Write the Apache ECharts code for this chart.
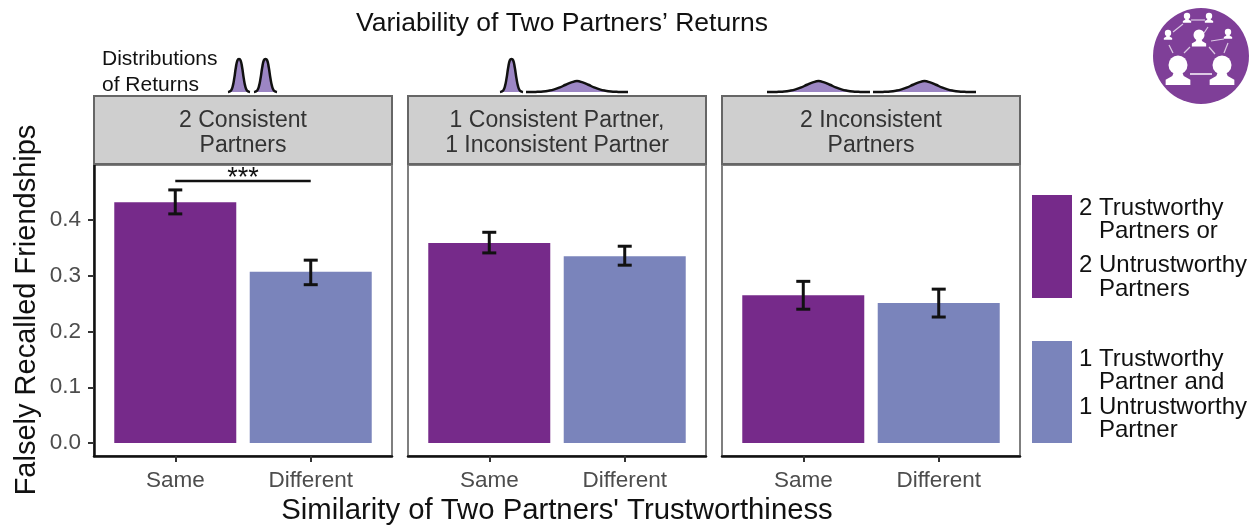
<!DOCTYPE html>
<html>
<head>
<meta charset="utf-8">
<title>Falsely Recalled Friendships</title>
<style>
    html, body { margin: 0; padding: 0; background: #fff; }
    #chart { width: 1255px; height: 525px; }
</style>
</head>
<body>
<div id="chart"></div>
<script src="https://cdn.jsdelivr.net/npm/echarts@6/dist/echarts.min.js"></script>
<script>
const categories = ["Same", "Different"];
const panelNames = ["2 Consistent\nPartners", "1 Consistent Partner,\n1 Inconsistent Partner", "2 Inconsistent\nPartners"];
const yTicks = [0, 0.1, 0.2, 0.3, 0.4];

const means = [[0.432, 0.307], [0.359, 0.335], [0.265, 0.251]];
const upper = [[0.454, 0.328], [0.378, 0.353], [0.29, 0.276]];
const lower = [[0.411, 0.284], [0.341, 0.319], [0.24, 0.226]];

const sigLine = [[1, 0.47], [2, 0.47]];

// shapes of the small return distributions above the panels
const narrowCurve = [0, 0.015, 0.05, 0.17, 0.42, 0.74, 0.96, 1, 0.96, 0.74, 0.42, 0.17, 0.05, 0.015, 0];
const wideCurve = [0, 0, 0.005, 0.015, 0.04, 0.08, 0.14, 0.22, 0.29, 0.33, 0.29, 0.22, 0.14, 0.08, 0.04, 0.015, 0.005, 0, 0];

const legendTop = ["2 Trustworthy", "   Partners or", "2 Untrustworthy", "   Partners"];
const legendBottom = ["1 Trustworthy", "   Partner and", "1 Untrustworthy", "   Partner"];

const FONT = '"Liberation Sans", Arial, sans-serif';
const PURPLE = "#762a8a", BLUE = "#7a84bb", ICON = "#7f3f98";
const panelLeft = [94, 408, 722], panelWidth = 298, plotTop = 165, plotHeight = 291;

// left, width of every small curve, with the panel it sits over
const curveBoxes = [
    [228, 22, narrowCurve], [254, 23, narrowCurve],
    [500, 23, narrowCurve], [526, 102, wideCurve],
    [767, 103, wideCurve], [873, 103, wideCurve]
];

let chart = echarts.init(document.getElementById("chart"));
let grids = [], xAxes = [], yAxes = [], series = [];

panelLeft.forEach(function(left, i) {
    grids.push({
        left: left, top: plotTop, width: panelWidth, height: plotHeight,
        show: true, borderColor: "#7f7f7f", borderWidth: 2, backgroundColor: "#fff"
    });
    xAxes.push({
        type: "value", gridIndex: i, min: 0.4, max: 2.6,
        splitLine: { show: false },
        axisLine: { show: true, onZero: false, lineStyle: { color: "#111", width: 2.5 } },
        axisTick: { show: true, customValues: [1, 2], length: 6, lineStyle: { color: "#333", width: 2 } },
        axisLabel: {
            customValues: [1, 2], margin: 13, fontSize: 22.5, color: "#4d4d4d", fontFamily: FONT,
            formatter: function(v) { return categories[v - 1]; }
        }
    });
    yAxes.push({
        type: "value", gridIndex: i, min: -0.0233, max: 0.4987,
        show: i === 0,
        splitLine: { show: false },
        axisLine: { show: true, onZero: false, lineStyle: { color: "#111", width: 2.5 } },
        axisTick: { show: true, customValues: yTicks, length: 6, lineStyle: { color: "#333", width: 2 } },
        axisLabel: {
            customValues: yTicks, margin: 13, fontSize: 22.5, color: "#4d4d4d", fontFamily: FONT,
            formatter: function(v) { return v.toFixed(1); }
        }
    });
    series.push({
        type: "bar", xAxisIndex: i, yAxisIndex: i, barWidth: 122, animation: false,
        data: means[i].map(function(v, j) {
            return { value: [j + 1, v], itemStyle: { color: j === 0 ? PURPLE : BLUE } };
        })
    });
    series.push({
        type: "custom", xAxisIndex: i, yAxisIndex: i, animation: false, z: 5,
        data: means[i].map(function(v, j) { return [j + 1, lower[i][j], upper[i][j]]; }),
        renderItem: function(params, api) {
            let lo = api.coord([api.value(0), api.value(1)]),
                hi = api.coord([api.value(0), api.value(2)]),
                style = { stroke: "#111", lineWidth: 3 };
            return {
                type: "group",
                children: [
                    { type: "line", shape: { x1: lo[0], y1: lo[1], x2: hi[0], y2: hi[1] }, style: style },
                    { type: "line", shape: { x1: lo[0] - 7, y1: lo[1], x2: lo[0] + 7, y2: lo[1] }, style: style },
                    { type: "line", shape: { x1: hi[0] - 7, y1: hi[1], x2: hi[0] + 7, y2: hi[1] }, style: style }
                ]
            };
        }
    });
});

series.push({
    type: "line", xAxisIndex: 0, yAxisIndex: 0, data: sigLine, symbol: "none", animation: false, z: 5,
    lineStyle: { color: "#111", width: 2.5 }
});

curveBoxes.forEach(function(box, k) {
    let idx = panelLeft.length + k;
    grids.push({ left: box[0], width: box[1], top: 59, height: 33 });
    xAxes.push({
        type: "category", gridIndex: idx, show: false, boundaryGap: false,
        data: box[2].map(function(v, n) { return n; })
    });
    yAxes.push({ type: "value", gridIndex: idx, show: false, min: 0, max: 1 });
    series.push({
        type: "line", xAxisIndex: idx, yAxisIndex: idx, data: box[2], symbol: "none", smooth: true,
        animation: false, clip: false,
        lineStyle: { color: "#111", width: 2.5 },
        areaStyle: { color: "#9c86c4", opacity: 1 }
    });
});

function txt(x, y, text, size, color, align, extra) {
    return Object.assign({
        type: "text", x: x, y: y, z: 20,
        style: {
            text: text, fontSize: size, fill: color, fontFamily: FONT,
            align: align || "left", verticalAlign: "middle", lineHeight: size * 1.07
        }
    }, extra || {});
}

function person(cx, cy, s) {
    // head plus shoulders, s is the head radius
    return [
        { type: "circle", z: 22, shape: { cx: cx, cy: cy, r: s }, style: { fill: "#fff" } },
        {
            type: "polygon", z: 22,
            shape: { points: [[cx - s * 0.45, cy + s * 0.8], [cx + s * 0.45, cy + s * 0.8], [cx + s * 0.6, cy + s * 1.15], [cx + s * 1.3, cy + s * 1.55], [cx + s * 1.3, cy + s * 2.1], [cx - s * 1.3, cy + s * 2.1], [cx - s * 1.3, cy + s * 1.55], [cx - s * 0.6, cy + s * 1.15]] },
            style: { fill: "#fff" }
        }
    ];
}

function link(x1, y1, x2, y2) {
    return { type: "line", z: 22, shape: { x1: x1, y1: y1, x2: x2, y2: y2 }, style: { stroke: "#dcc9e4", lineWidth: 1.2 } };
}

let graphics = [
    txt(562, 24, "Variability of Two Partners\u2019 Returns", 26.5, "#111", "center"),
    txt(102, 59, "Distributions", 21, "#111"),
    txt(102, 85, "of Returns", 21, "#111"),
    txt(27, 310, "Falsely Recalled Friendships", 29, "#111", "center", { rotation: Math.PI / 2 }),
    txt(557, 511, "Similarity of Two Partners' Trustworthiness", 29.3, "#111", "center"),
    { type: "rect", z: 20, shape: { x: 1032, y: 195, width: 40, height: 103 }, style: { fill: PURPLE } },
    { type: "rect", z: 20, shape: { x: 1032, y: 341, width: 40, height: 102 }, style: { fill: BLUE } },
    { type: "circle", z: 21, shape: { cx: 1201, cy: 56, r: 48 }, style: { fill: ICON } },
    link(1191, 20, 1205, 20), link(1183, 24, 1173, 32), link(1208, 27, 1204, 33), link(1211, 41, 1224, 39),
    link(1169, 45, 1173, 53), link(1228, 43, 1224, 53), link(1190, 47, 1184, 53), link(1209, 47, 1215, 54),
    { type: "rect", z: 22, shape: { x: 1190, y: 73, width: 22, height: 2 }, style: { fill: "#dcc9e4" } },
    txt(1201, 65, "?", 13, "#eadcf0", "center")
];

[[1187, 16, 3.2], [1209, 16, 3.2], [1168, 33, 3.2], [1228, 32, 3.2], [1199, 35, 5.5], [1178, 65, 9.5], [1222, 65, 9.5]].forEach(function(p) {
    graphics = graphics.concat(person(p[0], p[1], p[2]));
});

panelLeft.forEach(function(left, i) {
    graphics.push({
        type: "rect", z: 10,
        shape: { x: left, y: 96, width: panelWidth, height: 68 },
        style: { fill: "#cfcfcf", stroke: "#666", lineWidth: 2 }
    });
    graphics.push(txt(left + panelWidth / 2, 133, panelNames[i], 23, "#333", "center"));
});

graphics.push(txt(243, 179, "***", 27, "#111", "center"));

[208, 231, 265, 289].forEach(function(y, i) { graphics.push(txt(1079, y, legendTop[i], 24, "#111")); });
[359, 382, 407, 430].forEach(function(y, i) { graphics.push(txt(1079, y, legendBottom[i], 24, "#111")); });

chart.setOption({
    animation: false,
    grid: grids,
    xAxis: xAxes,
    yAxis: yAxes,
    series: series,
    graphic: graphics
});
</script>
</body>
</html>
